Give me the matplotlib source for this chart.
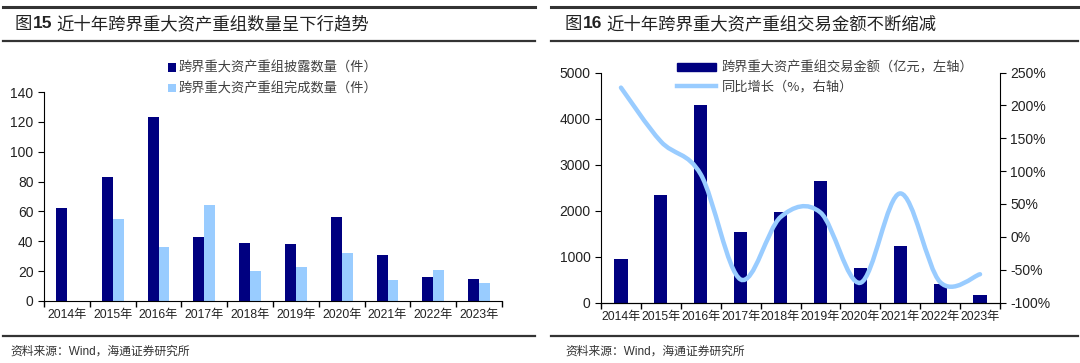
import numpy as np
import matplotlib
matplotlib.use("Agg")
import matplotlib.pyplot as plt
from matplotlib.lines import Line2D
from matplotlib.patches import Patch, PathPatch
from matplotlib.path import Path

plt.rcParams["font.family"] = ["Liberation Sans", "Noto Sans CJK SC"]

# ---- data ----
years = ["2014年", "2015年", "2016年", "2017年", "2018年",
         "2019年", "2020年", "2021年", "2022年", "2023年"]
disclosed = [62, 83, 123, 43, 39, 38, 56, 31, 16, 15]
completed = [0, 55, 36, 64, 20, 23, 32, 14, 21, 12]
amount = [950, 2330, 4290, 1540, 1970, 2650, 740, 1230, 410, 170]
yoy = [227, 145, 95, -65, 30, 37, -70, 66, -69, -57]

left_title = "近十年跨界重大资产重组数量呈下行趋势"
right_title = "近十年跨界重大资产重组交易金额不断缩减"
source = "资料来源：Wind，海通证券研究所"

NAVY = "#000080"
LIGHT = "#99CCFF"
RULE = "#333333"
TXT = "#404040"

W, H = 1080, 363
fig = plt.figure(figsize=(W / 100, H / 100), dpi=100)


def fx(px):
    return px / W


def fy(py):
    return 1 - py / H


def rule(x0, x1, y, lw):
    fig.add_artist(Line2D([fx(x0), fx(x1)], [fy(y), fy(y)], color=RULE,
                          lw=lw, transform=fig.transFigure))


def title(x, y, num, text):
    r = fig.canvas.get_renderer()
    kw = dict(fontsize=12.5, va="center", color="#222222",
              family=["Noto Sans CJK SC"])
    t = fig.text(fx(x), fy(y), "图", **kw)
    bb = t.get_window_extent(r)
    t2 = fig.text(bb.x1 / W, fy(y), num, fontweight="bold", fontsize=12.5,
                  va="center", color="#222222", family=["Liberation Sans"])
    bb2 = t2.get_window_extent(r)
    fig.text(bb2.x1 / W + 0.004, fy(y), text, **kw)


def setup_xaxis(ax):
    n = len(years)
    ax.set_xlim(-0.5, n - 0.5)
    ax.set_xticks(np.arange(n + 1) - 0.5)
    ax.set_xticklabels([])
    ax.set_xticks(np.arange(n), minor=True)
    ax.set_xticklabels(years, minor=True, fontsize=8.8, color="#222222")
    ax.tick_params(axis="x", which="major", direction="out", length=4, width=1)
    ax.tick_params(axis="x", which="minor", length=0, pad=6)


legend_prop = {"family": ["Noto Sans CJK SC"], "size": 9.5}

# ---- page furniture ----
rule(3, 535, 7, 2.2)
rule(551, 1078, 7, 2.2)
rule(3, 535, 41, 1.6)
rule(551, 1078, 41, 1.6)
rule(3, 535, 336, 1.6)
rule(551, 1078, 336, 1.6)
title(15, 24, "15", left_title)
title(565, 24, "16", right_title)
fig.text(fx(10), fy(352), source, fontsize=8.5, va="center", color="#333333")
fig.text(fx(565), fy(352), source, fontsize=8.5, va="center", color="#333333")

# ---- left chart ----
ax1 = fig.add_axes([fx(44), fy(301), fx(502) - fx(44), fy(92) - fy(301)])
x = np.arange(len(years))
w = 0.24
ax1.bar(x - w / 2, disclosed, w, color=NAVY, label="跨界重大资产重组披露数量（件）")
ax1.bar(x + w / 2, completed, w, color=LIGHT, label="跨界重大资产重组完成数量（件）")
ax1.set_ylim(0, 140)
ax1.set_yticks(range(0, 141, 20))
ax1.tick_params(axis="y", direction="out", length=4, labelsize=10,
                labelcolor="#222222")
setup_xaxis(ax1)
for s in ["top", "right"]:
    ax1.spines[s].set_visible(False)
ax1.legend(loc="upper left", bbox_to_anchor=((156 - 44) / 458, 1.2),
           frameon=False, handlelength=0.6, handleheight=0.6,
           handletextpad=0.2, labelspacing=0.55, labelcolor=TXT,
           prop=legend_prop)

# ---- right chart ----
ax2 = fig.add_axes([fx(601), fy(302.5), fx(1000) - fx(601), fy(72.5) - fy(302.5)])
ax2.bar(x, amount, 0.33, color=NAVY)
ax2.set_ylim(0, 5000)
ax2.set_yticks(range(0, 5001, 1000))
ax2.tick_params(axis="y", direction="out", length=4, labelsize=10,
                labelcolor="#222222")
setup_xaxis(ax2)
ax2.spines["top"].set_visible(False)
ax2.spines["right"].set_visible(False)

ax3 = ax2.twinx()
ax3.set_ylim(-100, 250)
ax3.set_yticks(range(-100, 251, 50))
ax3.set_yticklabels([f"{v}%" for v in range(-100, 251, 50)])
ax3.tick_params(axis="y", direction="out", length=4, labelsize=10,
                labelcolor="#222222")
ax3.spines["top"].set_visible(False)
ax3.spines["left"].set_visible(False)

# smoothed line (Catmull-Rom as bezier segments, like Excel smoothing)
pts = np.column_stack([x, yoy]).astype(float)
ext = np.vstack([pts[0], pts, pts[-1]])
verts = [tuple(pts[0])]
codes = [Path.MOVETO]
for i in range(1, len(ext) - 2):
    p0, p1, p2, p3 = ext[i - 1], ext[i], ext[i + 1], ext[i + 2]
    verts += [tuple(p1 + (p2 - p0) / 6), tuple(p2 - (p3 - p1) / 6), tuple(p2)]
    codes += [Path.CURVE4] * 3
ax3.add_patch(PathPatch(Path(verts, codes), fill=False, edgecolor=LIGHT,
                        lw=3.2, capstyle="round"))

handles = [Patch(color=NAVY), Line2D([], [], color=LIGHT, lw=3.2)]
labels = ["跨界重大资产重组交易金额（亿元，左轴）", "同比增长（%，右轴）"]
ax3.legend(handles, labels, loc="upper left",
           bbox_to_anchor=((665 - 601) / 399, 1.1), frameon=False,
           handlelength=3.0, handleheight=0.5, handletextpad=0.4,
           labelspacing=0.45, labelcolor=TXT, prop=legend_prop)

fig.savefig("out.png", dpi=100)
